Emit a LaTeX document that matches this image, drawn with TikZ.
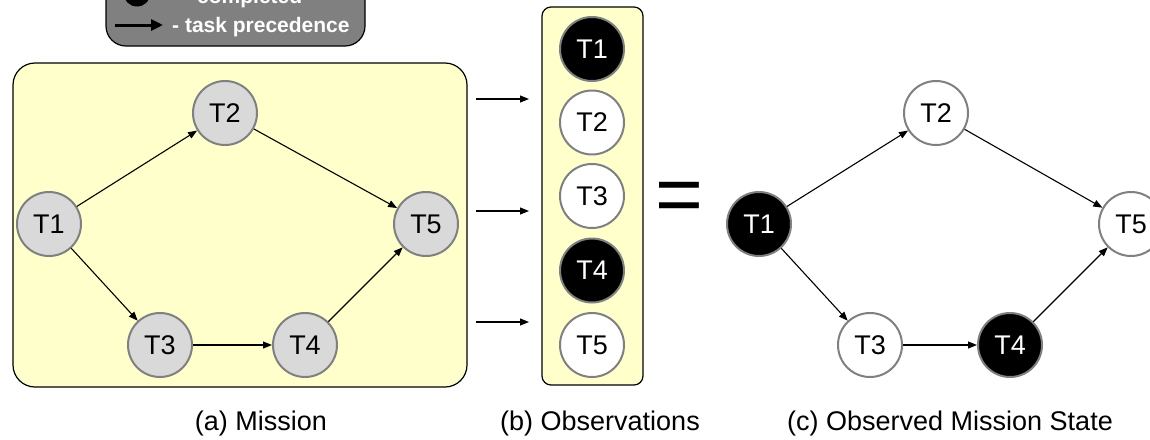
\documentclass[tikz,border=0pt]{standalone}
\usepackage{fontspec}
\setmainfont{Liberation Sans}
\usetikzlibrary{arrows.meta}
\definecolor{boxyellow}{HTML}{FFFFCC}
\definecolor{nodegray}{HTML}{D9D9D9}
\definecolor{rimgray}{HTML}{808080}
\definecolor{legendgray}{HTML}{808080}
\tikzset{
  task/.style={circle, minimum size=64pt, inner sep=0pt, line width=2pt, draw=rimgray,
    font=\fontsize{27}{30}\selectfont},
  pending/.style={task, fill=nodegray, text=black},
  open/.style={task, fill=white, text=black},
  done/.style={task, fill=black, text=white},
  prec/.style={line width=1.1pt, -{Triangle[length=9pt,width=7pt]}},
  panel/.style={draw=black, line width=1.2pt, fill=boxyellow},
  caption/.style={anchor=base, font=\fontsize{27}{30}\selectfont},
}
\begin{document}
\begin{tikzpicture}[x=1pt,y=-1pt]
\path[use as bounding box, clip] (0,0) rectangle (1150,439);
\fill[white] (0,0) rectangle (1150,439);

% legend (cropped at top)
\draw[fill=legendgray, line width=1.2pt, rounded corners=20pt] (106,-90) rectangle (365,46);
\node[circle, fill=black, minimum size=27pt, inner sep=0pt] (legdot) at (137,-7) {};
\node[anchor=base west, inner sep=0pt, text=white, font=\bfseries\fontsize{21}{24}\selectfont] (legdone) at (197,4) {completed};
\coordinate (legA) at (115,25);
\coordinate (legB) at (163,25);
\draw[line width=3pt, -{Triangle[length=12pt,width=11pt]}] (legA) -- (legB);
\node[anchor=base west, inner sep=0pt, text=white, font=\bfseries\fontsize{21}{24}\selectfont] (legprec) at (172,32) {- task precedence};

% (a) Mission
\draw[panel, rounded corners=22pt] (13,63) rectangle (467,387);
\node[pending] (a1) at (49,224) {T1};
\node[pending] (a2) at (225,113) {T2};
\node[pending] (a3) at (160,345) {T3};
\node[pending] (a4) at (305,345) {T4};
\node[pending] (a5) at (426,224) {T5};
\draw[prec] (a1) -- (a2);
\draw[prec] (a2) -- (a5);
\draw[prec] (a1) -- (a3);
\draw[prec] (a3) -- (a4);
\draw[prec] (a4) -- (a5);

% arrows to observations
\foreach \y/\n in {99/1,211/2,322/3}{
  \coordinate (s\n) at (476,\y);
  \coordinate (e\n) at (529,\y);
  \draw[prec] (s\n) -- (e\n);
}

% (b) Observations
\draw[panel, rounded corners=9pt] (542,7) rectangle (643,385);
\node[done] (b1) at (592,49) {T1};
\node[open] (b2) at (592,122.5) {T2};
\node[open] (b3) at (592,196) {T3};
\node[done] (b4) at (592,270.5) {T4};
\node[open] (b5) at (592,345) {T5};

% equals
\node[anchor=base, inner sep=0pt, font=\fontsize{82}{90}\selectfont] (eq) at (679,222) {=};

% (c) Observed Mission State
\node[done] (c1) at (759,224) {T1};
\node[open] (c2) at (936,113) {T2};
\node[open] (c3) at (870,345) {T3};
\node[done] (c4) at (1010,345) {T4};
\node[open] (c5) at (1131,224) {T5};
\draw[prec] (c1) -- (c2);
\draw[prec] (c2) -- (c5);
\draw[prec] (c1) -- (c3);
\draw[prec] (c3) -- (c4);
\draw[prec] (c4) -- (c5);

% captions
\node[caption] (capa) at (261,430) {(a) Mission};
\node[caption] (capb) at (600,430) {(b) Observations};
\node[caption] (capc) at (950,430) {(c) Observed Mission State};
\end{tikzpicture}
\end{document}
